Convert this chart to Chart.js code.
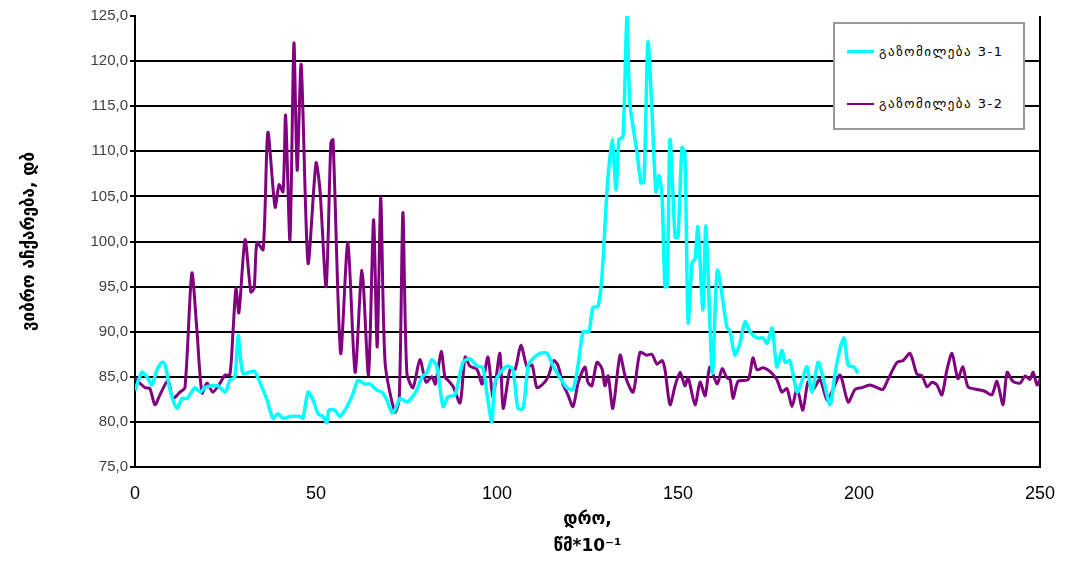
<!DOCTYPE html>
<html>
<head>
<meta charset="utf-8">
<script src="https://cdn.jsdelivr.net/npm/chart.js@4"></script>
<style>
  body { margin: 0; background: #fff; }
  #wrap { position: relative; width: 1083px; height: 561px; }
  #legenda {
    position: absolute; left: 833px; top: 22px; width: 188px; height: 104px;
    background: #fff; border: 2px solid #9a9a9a;
    font-family: "DejaVu Sans", sans-serif; font-size: 13px; letter-spacing: 1.5px; color: #000;
  }
  #legenda .item { position: absolute; left: 12px; display: flex; align-items: center; white-space: nowrap; }
  #legenda .amostra { width: 27px; margin-right: 5px; }
</style>
</head>
<body>
<div id="wrap">
  <canvas id="grafico" width="1083" height="561"></canvas>
  <div id="legenda"></div>
</div>
<script>
// série 3-1 (ciano)
const xs31 = [0, 1.9, 3.3, 4.7, 6.1, 7.5, 8.3, 9.7, 11.6, 13.0, 14.4, 16.6, 18.0, 19.3, 21.3, 23.0, 24.9, 26.2, 27.6, 28.5,
  29.8, 32.3, 33.1, 35.1, 36.5, 38.1, 39.5, 40.9, 42.8, 45.6, 46.4, 47.8, 49.2, 50.6, 51.9, 53.0, 53.6, 55.2, 56.6, 58.6,
  60.2, 61.6, 63.5, 64.9, 66.9, 68.2, 69.6, 71.0, 71.8, 73.2, 75.1, 76.5, 77.9, 79.3, 80.7, 82.0, 83.4, 85.1, 86.5, 88.4,
  90.6, 92.5, 94.5, 96.1, 97.2, 98.6, 99.4, 101.4, 103.0, 104.4, 105.8, 107.2, 108.6, 109.9, 111.9, 113.8, 115.5, 117.4, 119.3, 121.0,
  122.4, 123.8, 125.4, 126.5, 127.9, 129.0, 130.4, 131.8, 132.9, 133.7, 134.8, 135.9, 136.7, 138.7, 139.8, 140.6, 141.7, 142.8, 143.9, 144.8,
  145.6, 146.4, 147.0, 147.8, 149.2, 150.0, 151.1, 151.9, 152.8, 153.9, 154.7, 155.5, 156.9, 157.7, 159.5, 160.9, 163.5, 164.4, 165.7, 167.1,
  168.5, 169.9, 171.8, 173.5, 174.6, 176.0, 177.3, 178.7, 179.6, 180.9, 182.9, 184.3, 185.6, 187.0, 188.7, 190.0, 192.0, 193.4, 194.8, 195.9,
  197.0, 198.6, 199.7];
const ys31 = [83.5, 85.5, 85.0, 84.1, 85.8, 86.6, 86.4, 83.5, 81.5, 82.6, 82.6, 83.8, 83.3, 83.8, 84.0, 84.0, 83.3, 84.6, 85.0, 89.6,
  85.4, 85.6, 85.6, 83.8, 82.4, 80.4, 80.9, 80.4, 80.6, 80.6, 80.4, 83.3, 82.4, 80.9, 80.6, 79.9, 81.3, 81.3, 80.6, 81.7,
  83.1, 84.6, 84.2, 84.2, 83.5, 83.3, 82.4, 81.0, 81.3, 82.6, 82.2, 82.7, 83.6, 85.0, 85.5, 86.9, 86.1, 81.7, 82.8, 83.0,
  86.6, 87.0, 86.2, 86.0, 83.2, 80.0, 84.3, 85.7, 86.2, 85.8, 81.5, 81.5, 86.2, 87.0, 87.6, 87.6, 86.2, 84.9, 83.8, 83.6,
  86.3, 90.0, 90.0, 92.7, 92.8, 96.1, 105.7, 111.3, 105.7, 111.3, 111.6, 124.9, 115.4, 109.8, 106.5, 106.6, 122.1, 114.6, 105.5, 107.3,
  104.9, 95.0, 95.0, 111.3, 100.5, 100.5, 110.4, 109.8, 91.0, 97.7, 98.0, 101.6, 92.4, 101.7, 85.4, 96.8, 90.5, 90.0, 87.4, 88.7,
  91.1, 90.0, 89.3, 89.3, 88.7, 90.4, 86.1, 87.9, 86.6, 86.8, 83.3, 84.6, 86.1, 83.3, 86.6, 85.0, 81.9, 85.4, 88.2, 89.3,
  86.3, 86.1, 85.4];

// série 3-2 (roxo)
const xs32 = [0, 2.8, 4.1, 5.5, 6.9, 9.1, 10.5, 12.4, 13.8, 15.7, 17.1, 18.5, 19.9, 21.5, 23.5, 24.9, 26.2, 27.1, 27.9, 28.7,
  30.4, 32.0, 32.9, 33.7, 35.4, 36.7, 38.7, 39.8, 40.9, 41.6, 42.8, 43.9, 44.8, 45.9, 47.8, 50.0, 51.1, 52.8, 54.1, 54.7,
  56.8, 58.8, 60.8, 62.7, 64.5, 65.9, 66.9, 67.9, 69.1, 71.8, 73.0, 74.0, 75.1, 76.8, 78.7, 80.4, 82.0, 83.0, 84.6, 85.6,
  86.5, 87.9, 89.8, 91.2, 92.5, 94.5, 95.9, 97.5, 98.9, 100.8, 101.7, 103.6, 105.0, 106.6, 108.3, 109.7, 111.0, 112.7, 114.1, 115.7,
  116.9, 118.2, 119.6, 121.0, 122.4, 124.3, 125.1, 126.2, 127.6, 129.0, 129.8, 130.7, 132.0, 134.0, 135.4, 137.6, 139.5, 141.4, 142.8, 144.2,
  145.6, 146.4, 147.8, 149.2, 150.6, 151.9, 152.8, 154.7, 156.1, 157.5, 158.8, 160.8, 162.2, 163.5, 164.4, 165.2, 166.6, 169.4, 170.7, 171.8,
  173.5, 175.4, 177.3, 178.7, 180.1, 181.5, 182.9, 184.5, 185.9, 187.3, 189.2, 191.2, 192.8, 194.8, 197.0, 198.9, 200.8, 203.0, 205.0, 206.6,
  208.0, 210.5, 212.2, 214.1, 216.0, 217.4, 218.8, 220.2, 221.5, 222.9, 224.3, 225.7, 227.3, 228.7, 230.1, 232.6, 234.8, 236.7, 238.1, 239.8,
  240.9, 242.5, 244.5, 245.9, 247.2, 248.1, 249.2, 250];
const ys32 = [84.8, 83.8, 83.7, 81.9, 83.0, 84.6, 82.6, 83.3, 83.8, 96.5, 90.2, 83.2, 84.3, 83.3, 84.3, 85.2, 85.2, 90.2, 94.8, 92.1,
  100.2, 94.4, 94.8, 99.9, 99.1, 112.1, 103.8, 106.3, 105.5, 114.0, 100.2, 122.0, 107.9, 119.6, 97.6, 108.7, 105.7, 95.0, 110.9, 111.3,
  87.6, 99.9, 85.5, 96.8, 85.2, 102.4, 88.3, 104.9, 86.5, 81.1, 82.6, 103.2, 85.4, 83.8, 86.9, 84.4, 85.0, 84.2, 87.8, 85.0,
  84.6, 83.9, 82.1, 87.2, 86.2, 85.8, 84.2, 87.2, 82.8, 87.6, 81.5, 85.8, 85.8, 88.5, 86.1, 86.3, 83.8, 84.2, 85.0, 86.8,
  86.2, 84.2, 83.0, 81.7, 84.3, 86.1, 84.4, 84.0, 86.6, 85.9, 84.0, 85.1, 81.5, 87.4, 85.1, 83.3, 87.7, 87.4, 87.5, 86.4,
  86.8, 85.8, 81.9, 84.0, 85.5, 84.0, 84.9, 81.9, 84.4, 82.9, 86.1, 84.2, 85.9, 84.9, 84.7, 82.6, 84.5, 84.7, 87.1, 85.8,
  86.0, 85.6, 84.7, 83.3, 83.7, 81.7, 83.7, 81.3, 84.4, 83.6, 84.7, 82.4, 83.6, 85.2, 82.2, 83.6, 83.8, 84.1, 83.8, 83.6,
  84.7, 86.6, 86.8, 87.6, 85.3, 85.1, 83.9, 84.4, 84.1, 83.0, 85.8, 87.6, 84.8, 86.1, 83.9, 83.6, 83.4, 83.0, 84.5, 81.9,
  85.5, 84.5, 84.3, 85.1, 84.7, 85.5, 84.1, 84.7];

const rotulos = ['გაზომილება 3-1', 'გაზომილება  3-2'];
const tituloY = 'ვიბრო აჩქარება, დბ';
const tituloX = ['დრო,', 'წმ*10⁻¹'];

const transparente = 'rgba(0,0,0,0)';
const pares = (xs, ys) => xs.map((x, i) => ({ x: x, y: ys[i] }));

document.addEventListener('DOMContentLoaded', () => {
    const canvas = document.getElementById('grafico');
    const chart = new Chart(canvas, {
        type: 'line',
        data: {
            datasets: [{
                label: rotulos[0],
                data: pares(xs31, ys31),
                borderColor: '#00ffff',
                borderWidth: 3.5,
                pointRadius: 0,
                tension: 0.25,
            }, {
                label: rotulos[1],
                data: pares(xs32, ys32),
                borderColor: '#800080',
                borderWidth: 3,
                pointRadius: 0,
                tension: 0.25,
            }]
        },
        options: {
            responsive: false,
            animation: false,
            layout: { padding: { top: 16, right: 43, left: 0, bottom: 0 } },
            plugins: { legend: { display: false }, tooltip: { enabled: false } },
            scales: {
                x: {
                    type: 'linear', min: 0, max: 250,
                    afterFit: s => { s.height = 94; },
                    ticks: { stepSize: 50, padding: 16, color: '#000', font: { family: '"Liberation Sans", Arial', size: 18 } },
                    grid: {
                        color: ctx => (ctx.tick && ctx.tick.value === 250) ? '#000' : transparente,
                        lineWidth: 2, drawTicks: false
                    },
                    border: { color: '#000', width: 2 },
                    title: {
                        display: true, text: tituloX, color: '#000',
                        font: { family: '"DejaVu Sans", sans-serif', size: 17, weight: 'bold', lineHeight: 1.6 },
                        padding: { top: 0, bottom: 1 }
                    }
                },
                y: {
                    min: 75, max: 125,
                    afterFit: s => { s.width = 135; },
                    ticks: {
                        stepSize: 5, padding: 2, color: '#404040',
                        font: { family: '"Liberation Sans", Arial', size: 15 },
                        callback: v => v.toFixed(1).replace('.', ',')
                    },
                    grid: {
                        color: ctx => (ctx.tick && (ctx.tick.value === 125 || ctx.tick.value === 75)) ? transparente : '#000',
                        tickColor: '#000', tickLength: 5, lineWidth: 2
                    },
                    border: { color: '#000', width: 2 },
                    title: {
                        display: true, text: tituloY, color: '#000',
                        font: { family: '"DejaVu Sans", sans-serif', size: 17, weight: 'bold' },
                        padding: { top: 19, bottom: 0 }
                    }
                }
            }
        }
    });

    // legenda dentro da área do gráfico
    const legenda = document.getElementById('legenda');
    chart.data.datasets.forEach((ds, i) => {
        const item = document.createElement('div');
        item.className = 'item';
        item.style.top = (i === 0 ? 20 : 72) + 'px';
        const amostra = document.createElement('span');
        amostra.className = 'amostra';
        amostra.style.borderTop = (i === 0 ? 3 : 2) + 'px solid ' + ds.borderColor;
        const texto = document.createElement('span');
        texto.textContent = ds.label;
        item.appendChild(amostra);
        item.appendChild(texto);
        legenda.appendChild(item);
    });
});
</script>
</body>
</html>
